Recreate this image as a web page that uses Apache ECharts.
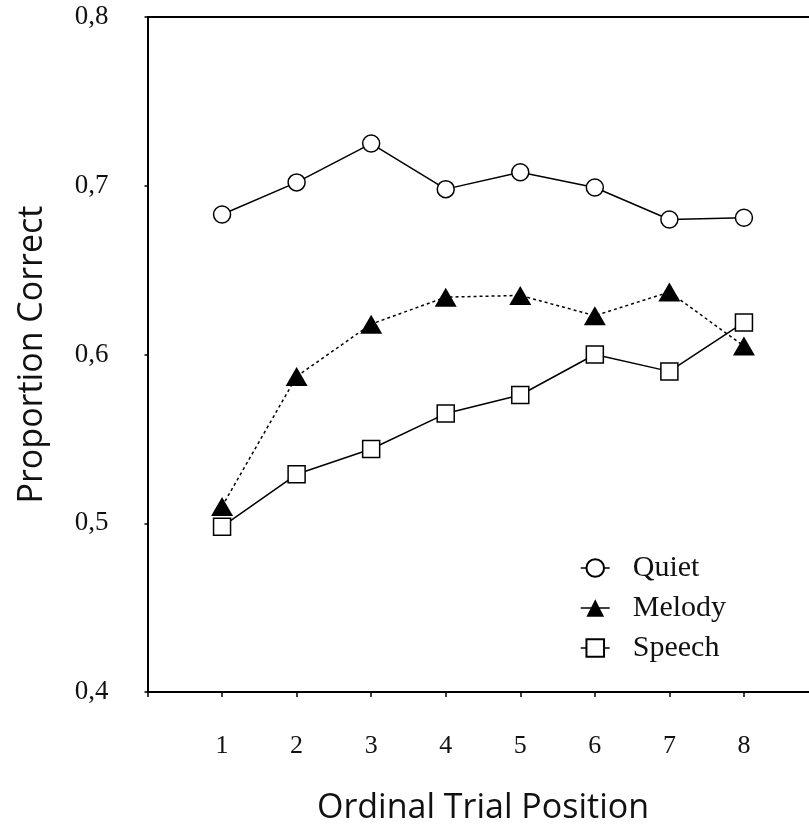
<!DOCTYPE html>
<html><head><meta charset="utf-8">
<script src="https://cdn.jsdelivr.net/npm/echarts@6/dist/echarts.min.js"></script>
<style>html,body{margin:0;padding:0;background:#fff}#c{width:809px;height:829px}</style>
</head><body><div id="c"></div>
<script>
const positions = [1, 2, 3, 4, 5, 6, 7, 8];
const xTickLabels = ['1', '2', '3', '4', '5', '6', '7', '8'];
const yTickValues = [0.4, 0.5, 0.6, 0.7, 0.8];
const seriesNames = ['Quiet', 'Melody', 'Speech'];
const quiet  = [0.683, 0.702, 0.725, 0.698, 0.708, 0.699, 0.680, 0.681];
const melody = [0.510, 0.587, 0.618, 0.634, 0.635, 0.623, 0.637, 0.605];
const speech = [0.498, 0.529, 0.544, 0.565, 0.576, 0.600, 0.590, 0.619];
const xTitle = 'Ordinal Trial Position';
const yTitle = 'Proportion Correct';

const serif = '"Liberation Serif", "DejaVu Serif", serif';
const sans = '"Open Sans", "Noto Sans", sans-serif';
const pair = arr => positions.map((x, i) => [x, arr[i]]);

const chart = echarts.init(document.getElementById('c'), null, {renderer: 'canvas'});
chart.setOption({
  animation: false,
  backgroundColor: '#fff',
  grid: {left: 147.5, top: 17, width: 671, height: 675, containLabel: false, outerBoundsMode: 'none'},
  legend: {
    orient: 'vertical', left: 575, top: 548,
    itemWidth: 29, itemHeight: 22, itemGap: 10,
    data: seriesNames,
    lineStyle: {type: 'solid', width: 1.5, color: '#000'},
    textStyle: {fontFamily: serif, fontSize: 30, lineHeight: 27, color: '#111', padding: [0, 0, 0, 18]}
  },
  xAxis: [{
    type: 'value', min: 0, max: 9, interval: 1, position: 'bottom',
    name: xTitle, nameLocation: 'middle', nameGap: 99,
    nameTextStyle: {fontFamily: sans, fontSize: 34, color: '#111'},
    axisLine: {show: true, lineStyle: {color: '#000', width: 2}},
    axisTick: {show: true, length: 5, lineStyle: {color: '#000', width: 1.5}},
    axisLabel: {
      margin: 41, fontFamily: serif, fontSize: 26, color: '#111',
      formatter: v => (v >= 1 && v <= xTickLabels.length) ? xTickLabels[v - 1] : ''
    },
    splitLine: {show: false}
  }, {
    type: 'value', min: 0, max: 9, interval: 1, position: 'top',
    axisLine: {show: true, lineStyle: {color: '#000', width: 2}},
    axisTick: {show: false}, axisLabel: {show: false}, splitLine: {show: false}
  }],
  yAxis: {
    type: 'value', min: 0.4, max: 0.8, interval: 0.1,
    name: yTitle, nameLocation: 'middle', nameGap: 98,
    nameTextStyle: {fontFamily: sans, fontSize: 34, color: '#111'},
    axisLine: {show: true, lineStyle: {color: '#000', width: 2}},
    axisTick: {show: true, length: 3, lineStyle: {color: '#000', width: 1.5}},
    axisLabel: {
      margin: 39, fontFamily: serif, fontSize: 27, color: '#111',
      formatter: v => yTickValues.some(t => Math.abs(t - v) < 1e-9) ? v.toFixed(1).replace('.', ',') : ''
    },
    splitLine: {show: false}
  },
  series: [
    {
      name: seriesNames[0], type: 'line', data: pair(quiet),
      symbol: 'circle', symbolSize: 17,
      lineStyle: {color: '#000', width: 1.5},
      itemStyle: {color: '#fff', borderColor: '#000', borderWidth: 1.5}
    },
    {
      name: seriesNames[1], type: 'line', data: pair(melody),
      symbol: 'triangle', symbolSize: [22, 19],
      lineStyle: {color: '#000', width: 1.5, type: [3, 3]},
      itemStyle: {color: '#000', borderColor: '#000', borderWidth: 0}
    },
    {
      name: seriesNames[2], type: 'line', data: pair(speech),
      symbol: 'rect', symbolSize: 17,
      lineStyle: {color: '#000', width: 1.5},
      itemStyle: {color: '#fff', borderColor: '#000', borderWidth: 1.5}
    }
  ]
});
</script></body></html>
